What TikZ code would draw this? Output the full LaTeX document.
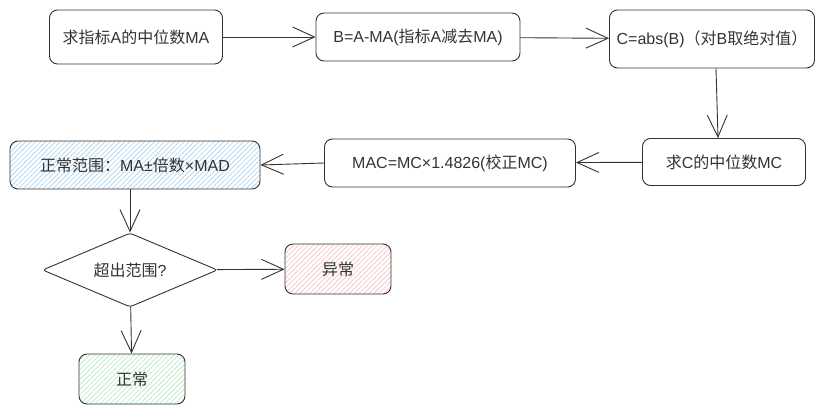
\documentclass[tikz,border=0pt]{standalone}
\usepackage{fontspec}
\setmainfont{Liberation Sans}
\newfontfamily\cjk{Noto Sans CJK SC}
\usetikzlibrary{shapes.geometric,arrows.meta,patterns.meta}

\definecolor{inkgray}{RGB}{51,51,51}
\definecolor{hatchblue}{RGB}{180,218,245}
\definecolor{hatchred}{RGB}{250,200,200}
\definecolor{hatchgreen}{RGB}{190,236,200}

\tikzset{
  stepbox/.style={rectangle, rounded corners=8pt, draw=inkgray, line width=0.9pt, inner sep=0pt, text=inkgray, font=\fontsize{16}{18}\selectfont},
  hatchbox/.style={stepbox, pattern={Lines[angle=45,distance=3.5pt,line width=0.8pt]}, pattern color=#1},
  askbox/.style={diamond, rounded corners=3pt, draw=inkgray, line width=0.9pt, inner sep=0pt, text=inkgray, font=\fontsize{16}{18}\selectfont},
  flow/.style={draw=inkgray, line width=0.9pt, -{Straight Barb[length=22pt,width=20pt,line width=0.9pt]}},
}

\begin{document}
\begin{tikzpicture}[x=1pt, y=-1pt]
\useasboundingbox (0,0) rectangle (823,415);
% first row
\node[stepbox, minimum width=173pt, minimum height=54pt] (medA) at (136,37) {{\cjk 求指标}A{\cjk 的中位数}MA};
\node[stepbox, minimum width=204pt, minimum height=48pt] (diffB) at (418,37) {B=A-MA({\cjk 指标}A{\cjk 减去}MA)};
\node[stepbox, minimum width=205pt, minimum height=58pt] (absC) at (712,39) {C=abs(B){\cjk （对}B{\cjk 取绝对值）}};
% second row
\node[stepbox, minimum width=163pt, minimum height=47pt] (medC) at (724,162) {{\cjk 求}C{\cjk 的中位数}MC};
\node[stepbox, minimum width=251pt, minimum height=48pt] (mad) at (450,163) {MAC=MC×1.4826({\cjk 校正}MC)};
\node[hatchbox=hatchblue, minimum width=250pt, minimum height=48pt] (range) at (135,165) {{\cjk 正常范围：}MA±{\cjk 倍数}×MAD};
% decision
\node[askbox, minimum width=175pt, minimum height=74pt, aspect=2.36] (check) at (130,270) {{\cjk 超出范围}?};
\node[hatchbox=hatchred, minimum width=106pt, minimum height=50pt] (bad) at (338,269) {\cjk 异常};
\node[hatchbox=hatchgreen, minimum width=106pt, minimum height=50pt] (good) at (132,379) {\cjk 正常};

\draw[flow] (medA) -- (diffB);
\draw[flow] (diffB) -- (absC);
\draw[flow] ([xshift=4pt]absC.south) -- ([xshift=-6pt]medC.north);
\draw[flow] (medC) -- (mad);
\draw[flow] (mad.west) -- (range.east);
\draw[flow] (range.south -| check.north) -- (check.north);
\draw[flow] (check) -- (bad);
\draw[flow] (check) -- (good);
\end{tikzpicture}
\end{document}
